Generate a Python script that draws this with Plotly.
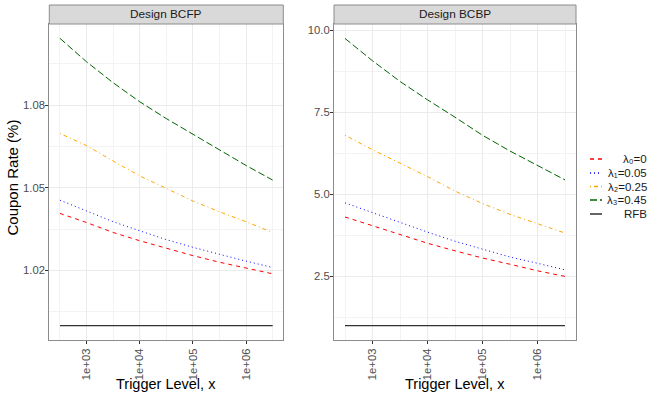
import plotly.graph_objects as go
from plotly.subplots import make_subplots

# ---------------- data ----------------
trigger = [316.2, 1000, 3162, 10000, 31623, 100000, 316228, 1000000, 3162278]

lambda_labels = ["λ₀=0", "λ₁=0.05", "λ₂=0.25", "λ₃=0.45", "RFB"]

bcfp_l0 = [1.0407, 1.0374, 1.0338, 1.0308, 1.0281, 1.0254, 1.0230, 1.0209, 1.0188]
bcfp_l1 = [1.0455, 1.0416, 1.0377, 1.0344, 1.0312, 1.0284, 1.0258, 1.0234, 1.0211]
bcfp_l2 = [1.0697, 1.0653, 1.0597, 1.0543, 1.0498, 1.0452, 1.0413, 1.0377, 1.0338]
bcfp_l3 = [1.1042, 1.0957, 1.0881, 1.0812, 1.0751, 1.0695, 1.0636, 1.0581, 1.0528]
bcfp_rfb = [1.0, 1.0, 1.0, 1.0, 1.0, 1.0, 1.0, 1.0, 1.0]

bcbp_l0 = [4.31, 4.04, 3.77, 3.51, 3.28, 3.06, 2.87, 2.67, 2.50]
bcbp_l1 = [4.74, 4.44, 4.14, 3.85, 3.57, 3.32, 3.09, 2.90, 2.70]
bcbp_l2 = [6.80, 6.36, 5.95, 5.54, 5.10, 4.72, 4.39, 4.11, 3.82]
bcbp_l3 = [9.75, 9.07, 8.44, 7.88, 7.35, 6.80, 6.32, 5.88, 5.44]
bcbp_rfb = [1.0, 1.0, 1.0, 1.0, 1.0, 1.0, 1.0, 1.0, 1.0]

panel_titles = ["Design BCFP", "Design BCBP"]

x_major = [1e3, 1e4, 1e5, 1e6]
x_major_text = ["1e+03", "1e+04", "1e+05", "1e+06"]
x_minor = [316.2, 3162, 31623, 316228, 3162278]

y1_major = [1.02, 1.05, 1.08]
y1_text = ["1.02", "1.05", "1.08"]
y1_minor = [1.005, 1.035, 1.065, 1.095]

y2_major = [2.5, 5.0, 7.5, 10.0]
y2_text = ["2.5", "5.0", "7.5", "10.0"]
y2_minor = [1.25, 3.75, 6.25, 8.75]

# ---------------- styling ----------------
W, H = 650, 393
FONT = "Liberation Sans, Arial, sans-serif"
colors = ["#FF0000", "#0000FF", "#FFA500", "#006400", "#333333"]
dashes = ["4px,4px", "1px,3px", "1px,3px,4px,3px", "7px,3px", "solid"]
widths = [1, 1, 1, 1, 1.2]


def px_x(p):
    return p / W


def px_y(p):
    return 1 - p / H


fig = make_subplots(rows=1, cols=2)

panels = [
    [bcfp_l0, bcfp_l1, bcfp_l2, bcfp_l3, bcfp_rfb],
    [bcbp_l0, bcbp_l1, bcbp_l2, bcbp_l3, bcbp_rfb],
]
for c, series in enumerate(panels, start=1):
    for i, ys in enumerate(series):
        fig.add_trace(
            go.Scatter(
                x=trigger, y=ys, mode="lines",
                line=dict(color=colors[i], dash=dashes[i], width=widths[i]),
                name=lambda_labels[i], showlegend=False, hoverinfo="skip",
            ),
            row=1, col=c,
        )

x_domains = [[px_x(49.3), px_x(283.3)], [px_x(334), px_x(576)]]
y_domain = [px_y(340), px_y(24)]

axis_common = dict(
    showline=True, mirror=True, linecolor="#8C8C8C", linewidth=1,
    ticks="outside", ticklen=3, tickcolor="#333333", tickwidth=1,
    showgrid=True, gridcolor="#EBEBEB", gridwidth=1, zeroline=False,
    tickfont=dict(family=FONT, size=11.3, color="#4D4D4D"),
)

for c in (1, 2):
    fig.update_xaxes(
        type="log", range=[2.3, 6.7], domain=x_domains[c - 1],
        tickmode="array", tickvals=x_major, ticktext=x_major_text, tickangle=-90,
        minor=dict(tickmode="array", tickvals=x_minor, showgrid=True,
                   gridcolor="#F3F3F3", gridwidth=0.6, ticks=""),
        row=1, col=c, **axis_common,
    )

fig.update_yaxes(
    range=[0.9948, 1.1094], domain=y_domain,
    tickmode="array", tickvals=y1_major, ticktext=y1_text,
    minor=dict(tickmode="array", tickvals=y1_minor, showgrid=True,
               gridcolor="#F3F3F3", gridwidth=0.6, ticks=""),
    ticklabelstandoff=-2,
    row=1, col=1, **axis_common,
)
fig.update_yaxes(
    range=[0.562, 10.19], domain=y_domain,
    tickmode="array", tickvals=y2_major, ticktext=y2_text,
    minor=dict(tickmode="array", tickvals=y2_minor, showgrid=True,
               gridcolor="#F3F3F3", gridwidth=0.6, ticks=""),
    ticklabelstandoff=-2,
    row=1, col=2, **axis_common,
)

shapes = []
annotations = []

# strips
for c in range(2):
    x0, x1 = x_domains[c]
    shapes.append(dict(type="rect", xref="paper", yref="paper",
                       x0=x0, x1=x1, y0=px_y(24), y1=px_y(5),
                       fillcolor="#D9D9D9", line=dict(color="#8C8C8C", width=1),
                       layer="above"))
    annotations.append(dict(text=panel_titles[c], xref="paper", yref="paper",
                            x=(x0 + x1) / 2, y=px_y(14.5), showarrow=False,
                            xanchor="center", yanchor="middle",
                            font=dict(family=FONT, size=11.8, color="#1A1A1A")))
    annotations.append(dict(text="Trigger Level, x", xref="paper", yref="paper",
                            x=(x0 + x1) / 2, y=px_y(384), showarrow=False,
                            xanchor="center", yanchor="middle",
                            font=dict(family=FONT, size=14.5, color="#000000")))

annotations.append(dict(text="Coupon Rate (%)", xref="paper", yref="paper",
                        x=px_x(12.5), y=px_y(178), showarrow=False, textangle=-90,
                        xanchor="center", yanchor="middle",
                        font=dict(family=FONT, size=15, color="#000000")))

# legend
leg_y = [159, 173, 186.5, 200, 214]
for i, lab in enumerate(lambda_labels):
    yy = px_y(leg_y[i])
    shapes.append(dict(type="line", xref="paper", yref="paper",
                       x0=px_x(590), x1=px_x(602), y0=yy, y1=yy,
                       line=dict(color=colors[i], dash=dashes[i], width=widths[i] + 0.3)))
    annotations.append(dict(text=lab, xref="paper", yref="paper",
                            x=px_x(649), y=yy, showarrow=False,
                            xanchor="right", yanchor="middle",
                            font=dict(family=FONT, size=11.5, color="#1A1A1A")))

fig.update_layout(
    width=W, height=H, margin=dict(l=0, r=0, t=0, b=0),
    paper_bgcolor="white", plot_bgcolor="white",
    showlegend=False, shapes=shapes, annotations=annotations,
    font=dict(family=FONT),
)

fig.write_html("out.html")
